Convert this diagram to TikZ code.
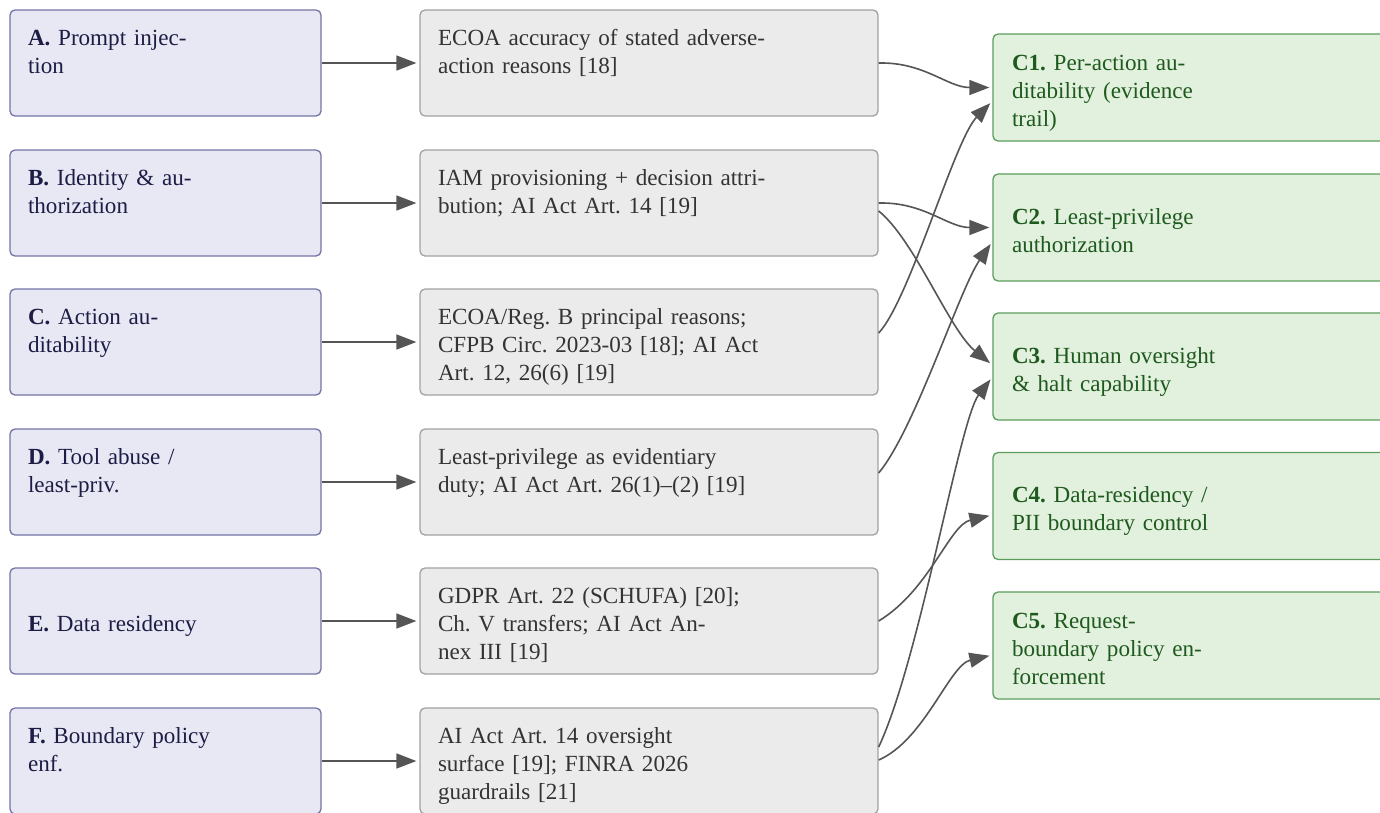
\documentclass[tikz,border=0pt]{standalone}
\usepackage{fontspec}
\setmainfont{Liberation Serif}
\usetikzlibrary{arrows.meta}
\definecolor{lfill}{HTML}{E8E8F5}
\definecolor{lborder}{HTML}{7474A6}
\definecolor{ltext}{HTML}{1C1C45}
\definecolor{mfill}{HTML}{EBEBEB}
\definecolor{mborder}{HTML}{A2A2A2}
\definecolor{mtext}{HTML}{333333}
\definecolor{rfill}{HTML}{E2F0DE}
\definecolor{rborder}{HTML}{5C9E5C}
\definecolor{rtext}{HTML}{1E5A1E}
\definecolor{edgec}{HTML}{555555}
\frenchspacing
\begin{document}
\begin{tikzpicture}[x=1pt,y=-1pt,
  box/.style={draw, rounded corners=5pt, line width=1.3pt, align=left,
    inner xsep=18pt, inner ysep=0pt, minimum height=106pt,
    font=\fontsize{23.1}{28}\selectfont\frenchspacing,
    execute at begin node={\rule{0pt}{29.4pt}}, execute at end node=\strut},
  lbox/.style={box, draw=lborder, fill=lfill, text=ltext, text width=275pt},
  mbox/.style={box, draw=mborder, fill=mfill, text=mtext, text width=422pt},
  rbox/.style={box, draw=rborder, fill=rfill, text=rtext, text width=382pt,
    inner xsep=19pt, minimum height=107pt},
  edge/.style={draw=edgec, line width=1.6pt, shorten >=3pt,
    -{Triangle[length=20pt,width=15pt]}, fill=none},
]
\useasboundingbox (0,0) rectangle (1380,812);
\clip (0,0) rectangle (1380,812);
\fill[white] (0,0) rectangle (1380,812);

% left column
\node[lbox] (lA) at (165.5,63)  {\textbf{A.} Prompt injec-\\tion\\};
\node[lbox] (lB) at (165.5,203) {\textbf{B.} Identity \& au-\\thorization\\};
\node[lbox] (lC) at (165.5,342) {\textbf{C.} Action au-\\ditability\\};
\node[lbox] (lD) at (165.5,482) {\textbf{D.} Tool abuse /\\least-priv.\\};
\node[lbox] (lE) at (165.5,621) {\textbf{E.} Data residency};
\node[lbox] (lF) at (165.5,761) {\textbf{F.} Boundary policy\\enf.\\};

% middle column
\node[mbox] (mA) at (649,63)  {ECOA accuracy of stated adverse-\\action reasons [18]\\};
\node[mbox] (mB) at (649,203) {IAM provisioning + decision attri-\\bution; AI Act Art. 14 [19]\\};
\node[mbox] (mC) at (649,342) {ECOA/Reg. B principal reasons;\\CFPB Circ. 2023-03 [18]; AI Act\\Art. 12, 26(6) [19]};
\node[mbox] (mD) at (649,482) {Least-privilege as evidentiary\\duty; AI Act Art. 26(1)–(2) [19]\\};
\node[mbox] (mE) at (649,621) {GDPR Art. 22 (SCHUFA) [20];\\Ch. V transfers; AI Act An-\\nex III [19]};
\node[mbox] (mF) at (649,761) {AI Act Art. 14 oversight\\surface [19]; FINRA 2026\\guardrails [21]};

% right column
\node[rbox] (C1) at (1203,87.5)  {\textbf{C1.} Per-action au-\\ditability (evidence\\trail)};
\node[rbox] (C2) at (1203,227.5) {\textbf{C2.} Least-privilege\\authorization};
\node[rbox] (C3) at (1203,366.5) {\textbf{C3.} Human oversight\\\& halt capability};
\node[rbox] (C4) at (1203,506)   {\textbf{C4.} Data-residency /\\PII boundary control};
\node[rbox] (C5) at (1203,645.5) {\textbf{C5.} Request-\\boundary policy en-\\forcement};

% left -> middle
\foreach \r in {A,B,C,D,E,F}{
  \draw[edge] (l\r) -- (m\r);
}

% middle -> right
\draw[edge] (mA.east) .. controls +(46,-1) and +(-45,0) .. (C1.west);
\draw[edge] ([yshift=9pt]mC.east) .. controls +(31,-33) and +(-38,39) .. ([yshift=-13.5pt]C1.west);
\draw[edge] (mB.east) .. controls +(46,-1) and +(-45,0) .. (C2.west);
\draw[edge] ([yshift=-8pt]mB.east) .. controls +(36,29) and +(-43,-35) .. ([yshift=1.5pt]C3.west);
\draw[edge] ([yshift=9pt]mD.east) .. controls +(36,-43) and +(-33,48) .. ([yshift=-14pt]C2.west);
\draw[edge] ([yshift=14pt]mF.east) .. controls +(41,-87) and +(-33,43) .. ([yshift=-10.5pt]C3.west);
\draw[edge] (mE.east) .. controls +(51,-31) and +(-43,10) .. ([yshift=-9pt]C4.west);
\draw[edge] ([yshift=1pt]mF.east) .. controls +(46,-20) and +(-43,10) .. ([yshift=-9.5pt]C5.west);
\end{tikzpicture}
\end{document}
